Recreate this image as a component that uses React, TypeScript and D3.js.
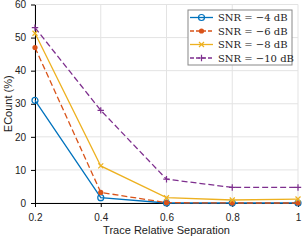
import * as d3 from "d3";
import {useRef, useEffect} from "react";

const separations = [0.2, 0.4, 0.6, 0.8, 1];
const snr4 = [31, 1.6, 0, 0, 0];
const snr6 = [47, 3.2, 0.1, 0, 0];
const snr8 = [51.3, 11.2, 1.6, 0.9, 1.2];
const snr10 = [53, 28, 7.2, 4.7, 4.7];
const legendLabels = ["SNR = \u22124 dB", "SNR = \u22126 dB", "SNR = \u22128 dB", "SNR = \u221210 dB"];
const xTicks = [0.2, 0.4, 0.6, 0.8, 1];
const yTicks = [0, 10, 20, 30, 40, 50, 60];

export default function App() {
    const svgRef = useRef(null);
    const margin = {top: 4.5, right: 7, bottom: 37, left: 35};
    const W = 305, H = 240;
    const width = W - margin.left - margin.right;
    const height = H - margin.top - margin.bottom;

    useEffect(() => {
        const root = d3.select(svgRef.current);
        root.selectAll("*").remove();
        const svg = root.append("g")
            .attr("transform", `translate(${margin.left},${margin.top})`);

        const x = d3.scaleLinear().domain([0.2, 1]).range([0, width]);
        const y = d3.scaleLinear().domain([0, 60]).range([height, 0]);

        // grid
        svg.append("g").selectAll("line").data(xTicks).join("line")
            .attr("x1", d => x(d)).attr("x2", d => x(d))
            .attr("y1", 0).attr("y2", height)
            .attr("stroke", "#e3e3e3").attr("stroke-width", 1);
        svg.append("g").selectAll("line").data(yTicks).join("line")
            .attr("x1", 0).attr("x2", width)
            .attr("y1", d => y(d)).attr("y2", d => y(d))
            .attr("stroke", "#e3e3e3").attr("stroke-width", 1);

        const font = "'Liberation Sans', Arial, sans-serif";

        const xa = svg.append("g")
            .attr("transform", `translate(0,${height})`)
            .call(d3.axisBottom(x).tickValues(xTicks).tickSize(4).tickSizeOuter(0)
                .tickFormat(d => d3.format("")(+d)));
        const ya = svg.append("g")
            .call(d3.axisLeft(y).tickValues(yTicks).tickSize(4).tickPadding(5).tickSizeOuter(0));
        [xa, ya].forEach(a => {
            a.selectAll("text").attr("font-family", font).attr("font-size", 10).attr("fill", "#222");
            a.select(".domain").attr("stroke", "#000");
            a.selectAll(".tick line").attr("stroke", "#000");
        });
        xa.selectAll("text").attr("y", 11);

        svg.append("text")
            .attr("x", width / 2).attr("y", height + 31)
            .attr("text-anchor", "middle")
            .attr("font-family", font).attr("font-size", 11).attr("fill", "#222")
            .text("Trace Relative Separation");
        svg.append("text")
            .attr("transform", `translate(${-23},${height / 2}) rotate(-90)`)
            .attr("text-anchor", "middle")
            .attr("font-family", font).attr("font-size", 11).attr("fill", "#222")
            .text("ECount (%)");

        const series = [
            {vals: snr4, color: "#0072BD", dash: null, marker: "circle"},
            {vals: snr6, color: "#D95319", dash: "6,3", marker: "dot"},
            {vals: snr8, color: "#EDB120", dash: null, marker: "x"},
            {vals: snr10, color: "#7E2F8E", dash: "6,3", marker: "plus"},
        ];

        const drawMarker = (g: any, type: string, color: string, cx: number, cy: number) => {
            if (type === "circle") {
                g.append("circle").attr("cx", cx).attr("cy", cy).attr("r", 3)
                    .attr("fill", "none").attr("stroke", color).attr("stroke-width", 1.2);
            } else if (type === "dot") {
                g.append("circle").attr("cx", cx).attr("cy", cy).attr("r", 2.6)
                    .attr("fill", color);
            } else if (type === "x") {
                const s = 2.5;
                g.append("path")
                    .attr("d", `M${cx - s},${cy - s}L${cx + s},${cy + s}M${cx - s},${cy + s}L${cx + s},${cy - s}`)
                    .attr("stroke", color).attr("stroke-width", 1.2);
            } else {
                const s = 3.2;
                g.append("path")
                    .attr("d", `M${cx - s},${cy}L${cx + s},${cy}M${cx},${cy - s}L${cx},${cy + s}`)
                    .attr("stroke", color).attr("stroke-width", 1.2);
            }
        };

        const line = d3.line<number>()
            .x((_, i) => x(separations[i]))
            .y(d => y(d));

        series.forEach(s => {
            const g = svg.append("g");
            g.append("path")
                .datum(s.vals)
                .attr("fill", "none")
                .attr("stroke", s.color)
                .attr("stroke-width", 1.3)
                .attr("stroke-dasharray", s.dash)
                .attr("d", line);
            s.vals.forEach((v, i) => drawMarker(g, s.marker, s.color, x(separations[i]), y(v)));
        });

        // legend
        const lg = root.append("g").attr("transform", "translate(188,10)");
        lg.append("rect").attr("x", 0).attr("y", 0).attr("width", 104).attr("height", 55)
            .attr("fill", "#fff").attr("stroke", "#888").attr("stroke-width", 1);
        series.forEach((s, i) => {
            const yy = 7.5 + i * 13.5;
            lg.append("line").attr("x1", 2).attr("x2", 25).attr("y1", yy).attr("y2", yy)
                .attr("stroke", s.color).attr("stroke-width", 1.3)
                .attr("stroke-dasharray", s.dash ? "4,2" : null);
            drawMarker(lg, s.marker, s.color, 13.5, yy);
            lg.append("text").attr("x", 30).attr("y", yy).attr("dy", "0.35em")
                .attr("font-family", "'DejaVu Serif', 'Liberation Serif', serif")
                .attr("font-size", 10).attr("fill", "#222")
                .text(legendLabels[i]);
        });
    }, []);

    return (
        <svg ref={svgRef} width={W} height={H}
             style={{position: "absolute", left: 0, top: 0, background: "#fff"}} />
    );
}
